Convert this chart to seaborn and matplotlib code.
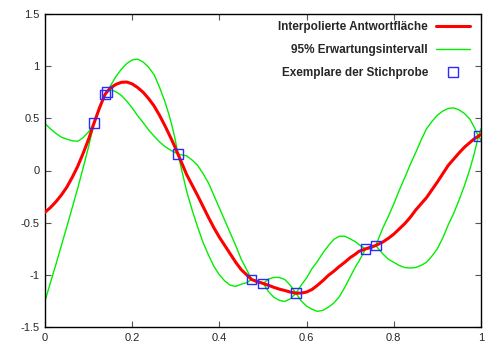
import matplotlib
matplotlib.use("Agg")
import matplotlib.pyplot as plt
import seaborn as sns
import pandas as pd
from matplotlib.lines import Line2D

# ---- data ----
xs = [0.0, 0.0125, 0.025, 0.0375, 0.05, 0.0625, 0.075, 0.0875, 0.1, 0.1124,
      0.125, 0.1376, 0.1415, 0.15, 0.1625, 0.175, 0.1875, 0.2, 0.2125, 0.225,
      0.2375, 0.25, 0.2625, 0.275, 0.2825, 0.29, 0.2975, 0.305, 0.325, 0.3375,
      0.35, 0.3625, 0.375, 0.3875, 0.4, 0.4125, 0.425, 0.4375, 0.45, 0.4625,
      0.474, 0.487, 0.5007, 0.5125, 0.525, 0.5375, 0.55, 0.5625, 0.5757, 0.5875,
      0.6, 0.6125, 0.625, 0.6375, 0.65, 0.6625, 0.675, 0.6875, 0.7, 0.7125,
      0.72, 0.7355, 0.747, 0.7585, 0.775, 0.7875, 0.8, 0.8125, 0.825, 0.8375,
      0.85, 0.8625, 0.875, 0.8875, 0.9, 0.9125, 0.925, 0.9375, 0.95, 0.9625,
      0.975, 0.985, 0.994, 1.0]

response = [-0.40, -0.355, -0.30, -0.235, -0.16, -0.065, 0.04, 0.165, 0.30, 0.454,
            0.60, 0.729, 0.751, 0.79, 0.825, 0.845, 0.848, 0.83, 0.795, 0.75,
            0.69, 0.62, 0.53, 0.43, 0.365, 0.30, 0.23, 0.157, -0.04, -0.14,
            -0.24, -0.345, -0.45, -0.55, -0.64, -0.72, -0.80, -0.88, -0.95, -1.00,
            -1.045, -1.065, -1.083, -1.10, -1.12, -1.137, -1.15, -1.165, -1.176, -1.175,
            -1.165, -1.14, -1.10, -1.055, -1.005, -0.965, -0.92, -0.88, -0.835, -0.80,
            -0.775, -0.751, -0.735, -0.719, -0.685, -0.65, -0.61, -0.56, -0.51, -0.45,
            -0.38, -0.32, -0.26, -0.185, -0.11, -0.03, 0.05, 0.11, 0.17, 0.225,
            0.27, 0.305, 0.329, 0.345]

upper = [0.45, 0.40, 0.355, 0.32, 0.30, 0.285, 0.28, 0.315, 0.37, 0.454,
         0.61, 0.729, 0.751, 0.81, 0.90, 0.97, 1.025, 1.06, 1.068, 1.04,
         0.99, 0.92, 0.80, 0.66, 0.56, 0.45, 0.32, 0.157, 0.14, 0.10,
         0.05, -0.03, -0.12, -0.24, -0.36, -0.48, -0.60, -0.72, -0.85, -0.95,
         -1.045, -1.055, -1.083, -1.04, -1.025, -1.025, -1.045, -1.10, -1.176, -1.10,
         -1.03, -0.94, -0.87, -0.79, -0.72, -0.66, -0.63, -0.63, -0.655, -0.685,
         -0.71, -0.751, -0.725, -0.719, -0.55, -0.44, -0.32, -0.19, -0.07, 0.055,
         0.17, 0.29, 0.40, 0.47, 0.53, 0.57, 0.595, 0.60, 0.58, 0.545,
         0.49, 0.41, 0.329, 0.40]

lower = [-1.25, -1.075, -0.90, -0.72, -0.54, -0.355, -0.17, 0.025, 0.23, 0.454,
         0.59, 0.729, 0.751, 0.775, 0.755, 0.72, 0.665, 0.60, 0.525, 0.46,
         0.39, 0.33, 0.275, 0.23, 0.21, 0.19, 0.175, 0.157, -0.20, -0.38,
         -0.54, -0.69, -0.81, -0.92, -1.00, -1.06, -1.10, -1.11, -1.09, -1.075,
         -1.045, -1.075, -1.083, -1.16, -1.215, -1.245, -1.255, -1.23, -1.176, -1.25,
         -1.30, -1.33, -1.35, -1.34, -1.31, -1.27, -1.21, -1.12, -1.02, -0.92,
         -0.87, -0.751, -0.75, -0.719, -0.80, -0.85, -0.88, -0.91, -0.93, -0.935,
         -0.93, -0.91, -0.88, -0.82, -0.75, -0.645, -0.52, -0.41, -0.28, -0.14,
         0.02, 0.17, 0.329, 0.29]

sample_x = [0.1124, 0.1376, 0.1415, 0.305, 0.474, 0.5007, 0.5757, 0.7355, 0.7585, 0.994]
sample_y = [0.454, 0.729, 0.751, 0.157, -1.045, -1.083, -1.176, -0.751, -0.719, 0.329]

x_ticks = [0, 0.2, 0.4, 0.6, 0.8, 1]
x_labels = ["0", "0.2", "0.4", "0.6", "0.8", "1"]
y_ticks = [-1.5, -1, -0.5, 0, 0.5, 1, 1.5]
y_labels = ["-1.5", "-1", "-0.5", "0", "0.5", "1", "1.5"]

labels = ["Interpolierte Antwortfläche", "95% Erwartungsintervall", "Exemplare der Stichprobe"]

# ---- plotting ----
sns.set_style("ticks")
plt.rcParams["font.family"] = ["Liberation Sans", "DejaVu Sans"]

curves = pd.DataFrame({"x": xs, "response": response, "upper": upper, "lower": lower})
samples = pd.DataFrame({"x": sample_x, "y": sample_y})

fig = plt.figure(figsize=(5, 3.5), dpi=100)
ax = fig.add_axes([45 / 500, 1 - 327 / 350, (481 - 45) / 500, (327 - 14) / 350])

green = "#00ee00"
red = "#ff0000"
blue = "#2b2bff"

sns.lineplot(data=curves, x="x", y="upper", ax=ax, color=green, lw=1.0, sort=False,
             estimator=None, zorder=2)
sns.lineplot(data=curves, x="x", y="lower", ax=ax, color=green, lw=1.0, sort=False,
             estimator=None, zorder=2)
sns.lineplot(data=curves, x="x", y="response", ax=ax, color=red, lw=2.2, sort=False,
             estimator=None, zorder=3)
sns.scatterplot(data=samples, x="x", y="y", ax=ax, marker="s", s=48,
                facecolor="none", edgecolor=blue, linewidth=1.0, zorder=4)

ax.set_xlim(0, 1)
ax.set_ylim(-1.5, 1.5)
ax.set_xticks(x_ticks)
ax.set_xticklabels(x_labels)
ax.set_yticks(y_ticks)
ax.set_yticklabels(y_labels)
ax.set_xlabel("")
ax.set_ylabel("")
ax.tick_params(direction="in", length=4, width=0.8, color="#555555", labelsize=8,
               top=True, right=True, pad=4)
for sp in ax.spines.values():
    sp.set_visible(True)
    sp.set_color("black")
    sp.set_linewidth(1.0)

handles = [
    Line2D([], [], color=red, lw=2.2),
    Line2D([], [], color=green, lw=1.0),
    Line2D([], [], color=blue, lw=0, marker="s", markersize=6.5,
           markerfacecolor="none", markeredgewidth=1.0),
]
leg = ax.legend(handles, labels, loc="upper right", frameon=False, markerfirst=False,
                bbox_to_anchor=(470 / 500, 1 - 21 / 350), bbox_transform=fig.transFigure,
                borderpad=0, borderaxespad=0, handlelength=2.9, handletextpad=0.65,
                labelspacing=0.95, prop={"weight": "bold", "size": 8.5})

fig.savefig("out.png", dpi=100)
